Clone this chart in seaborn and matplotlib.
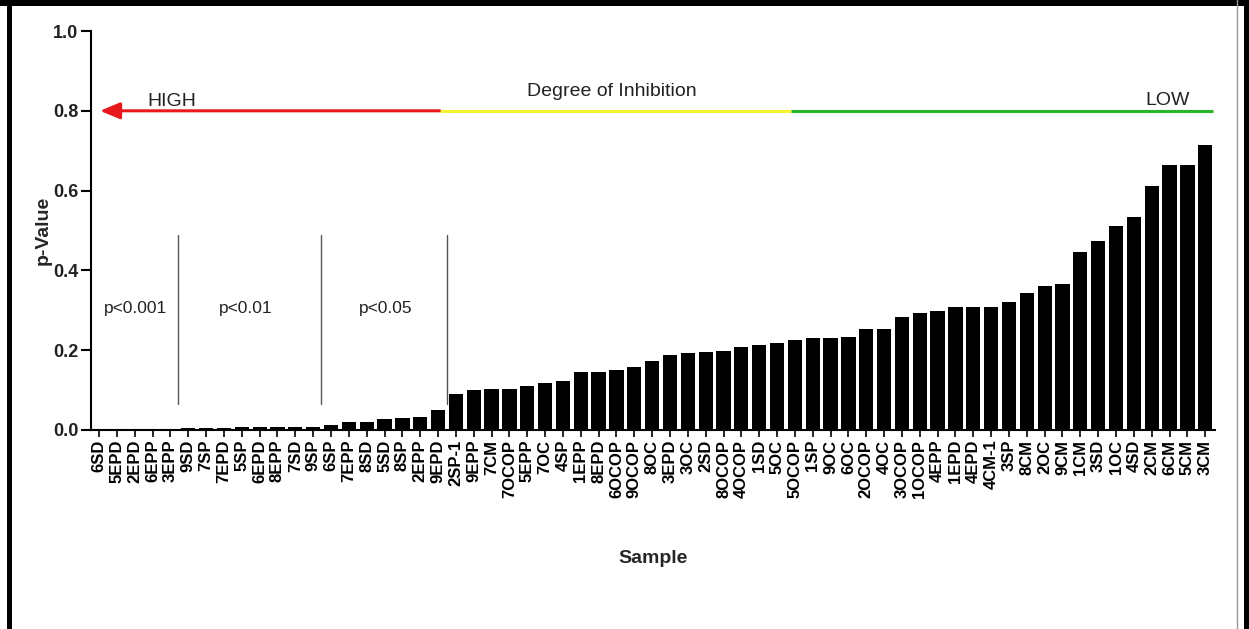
import matplotlib
matplotlib.use("Agg")
import matplotlib.pyplot as plt
import seaborn as sns
import pandas as pd
from matplotlib.patches import FancyArrowPatch, Rectangle
from matplotlib.lines import Line2D

samples = ["6SD", "5EPD", "2EPD", "6EPP", "3EPP", "9SD", "7SP", "7EPD", "5SP", "6EPD",
           "8EPP", "7SD", "9SP", "6SP", "7EPP", "8SD", "5SD", "8SP", "2EPP", "9EPD",
           "2SP-1", "9EPP", "7CM", "7OCOP", "5EPP", "7OC", "4SP", "1EPP", "8EPD", "6OCOP",
           "9OCOP", "8OC", "3EPD", "3OC", "2SD", "8OCOP", "4OCOP", "1SD", "5OC", "5OCOP",
           "1SP", "9OC", "6OC", "2OCOP", "4OC", "3OCOP", "1OCOP", "4EPP", "1EPD", "4EPD",
           "4CM-1", "3SP", "8CM", "2OC", "9CM", "1CM", "3SD", "1OC", "4SD", "2CM",
           "6CM", "5CM", "3CM"]

p_values = [0.0005, 0.0005, 0.0005, 0.0005, 0.0005, 0.004, 0.005, 0.006, 0.007, 0.007,
            0.007, 0.007, 0.008, 0.013, 0.019, 0.021, 0.027, 0.029, 0.032, 0.049,
            0.089, 0.099, 0.102, 0.102, 0.109, 0.119, 0.124, 0.146, 0.146, 0.150,
            0.159, 0.174, 0.188, 0.194, 0.196, 0.197, 0.209, 0.212, 0.217, 0.226,
            0.230, 0.230, 0.234, 0.253, 0.253, 0.282, 0.292, 0.297, 0.309, 0.309,
            0.309, 0.320, 0.343, 0.362, 0.367, 0.445, 0.474, 0.512, 0.534, 0.612,
            0.664, 0.664, 0.714]

y_ticks = [0.0, 0.2, 0.4, 0.6, 0.8, 1.0]

# annotation content
sig_labels = ["p<0.001", "p<0.01", "p<0.05"]
sig_label_x = [2.02, 8.24, 16.09]
sig_divider_x = [4.41, 12.44, 19.49]
degree_texts = ["HIGH", "Degree of Inhibition", "LOW"]
degree_text_x = [4.09, 28.73, 59.9]
degree_text_y = [0.812, 0.837, 0.815]
degree_breaks = [0.05, 19.1, 38.8, 62.45]
degree_colors = ["#e8191c", "#f6f232", "#27b52a"]

df = pd.DataFrame({"Sample": samples, "p": p_values})

sns.set_style("ticks")
plt.rcParams["font.family"] = ["Liberation Sans", "DejaVu Sans"]

fig = plt.figure(figsize=(12.49, 6.29), dpi=100)
ax = fig.add_axes([0.0729, 0.3164, 0.9728 - 0.0729, 0.9507 - 0.3164])

sns.barplot(data=df, x="Sample", y="p", order=samples, color="black",
            saturation=1, width=0.8, ax=ax, edgecolor="black", linewidth=0)

ax.set_xlim(-0.45, 62.55)
ax.set_ylim(0, 1.0)
ax.set_yticks(y_ticks)
ax.set_yticklabels([f"{v:.1f}" for v in y_ticks], fontsize=13, fontweight="bold", color="#222222")
ax.set_xticks(range(len(samples)))
ax.set_xticklabels(samples, rotation=90, fontsize=12, fontweight="bold", color="black")
ax.tick_params(axis="y", length=7, width=1.5, pad=2, color="black")
ax.tick_params(axis="x", length=5, width=1.2, pad=2, color="black")
for s in ["top", "right"]:
    ax.spines[s].set_visible(False)
for s in ["left", "bottom"]:
    ax.spines[s].set_linewidth(1.5)
    ax.spines[s].set_color("black")

ax.set_xlabel("Sample", fontsize=14, fontweight="bold")
ax.set_ylabel("p-Value", fontsize=14, fontweight="bold")
ax.xaxis.set_label_coords(0.5, -0.30)
ax.yaxis.set_label_coords(-0.035, 0.5)

# degree-of-inhibition arrow
arrow = FancyArrowPatch((degree_breaks[1], 0.8), (degree_breaks[0], 0.8),
                        arrowstyle="-|>,head_length=0.6,head_width=0.25",
                        mutation_scale=20, color=degree_colors[0], lw=2.2,
                        shrinkA=0, shrinkB=0, zorder=5)
ax.add_patch(arrow)
ax.plot([degree_breaks[1], degree_breaks[2]], [0.8, 0.8], color=degree_colors[1], lw=2.2,
        solid_capstyle="butt", zorder=5)
ax.plot([degree_breaks[2], degree_breaks[3]], [0.8, 0.8], color=degree_colors[2], lw=2.2,
        solid_capstyle="butt", zorder=5)
for t, x, y in zip(degree_texts, degree_text_x, degree_text_y):
    ax.text(x, y, t, ha="center", va="baseline", fontsize=14, color="#222222")

# significance dividers
for x in sig_divider_x:
    ax.plot([x, x], [0.064, 0.489], color="#555555", lw=1.0)
for t, x in zip(sig_labels, sig_label_x):
    ax.text(x, 0.293, t, ha="center", va="baseline", fontsize=12.5, color="#222222")

# figure frame
fig.add_artist(Rectangle((0, 1 - 6 / 629), 1, 6 / 629, transform=fig.transFigure,
                         color="black", lw=0))
fig.add_artist(Rectangle((7 / 1249, 0), 5 / 1249, 1, transform=fig.transFigure,
                         color="black", lw=0))
fig.add_artist(Rectangle((1244 / 1249, 0), 5 / 1249, 1, transform=fig.transFigure,
                         color="black", lw=0))
fig.add_artist(Line2D([1236.5 / 1249, 1236.5 / 1249], [0, 1], transform=fig.transFigure,
                      color="#999999", lw=1))

fig.savefig("out.png", dpi=100)
